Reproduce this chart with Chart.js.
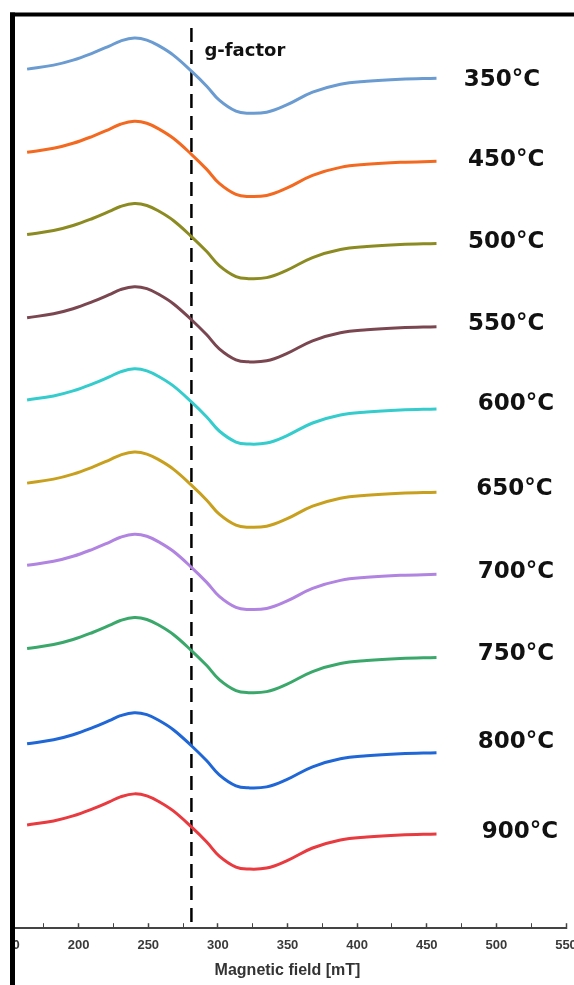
<!DOCTYPE html>
<html><head><meta charset="utf-8">
<style>
html,body{margin:0;padding:0;background:#fff;overflow:hidden;width:574px;height:985px;}
#wrap{position:absolute;left:-30px;top:0;width:640px;height:985px;}
</style>
<script src="https://cdn.jsdelivr.net/npm/chart.js@4.4.0/dist/chart.umd.min.js"></script>
</head><body>
<div id="wrap"><canvas id="c" width="640" height="985" style="width:640px;height:985px"></canvas></div>
<script>
// Magnetic field positions (mT) at which the spectra were read
const fieldMT = [163, 182, 196, 210, 222, 230, 240, 249, 258, 268, 281, 292, 301, 313, 322, 335, 349, 368, 388, 407, 431, 457];
// Temperature labels
const temperatures = ['350', '450', '500', '550', '600', '650', '700', '750', '800', '900'];
// Stacked ESR derivative signals (arbitrary units, offset stacking)
const s350 = [857, 861, 866, 873, 880, 885, 888, 886, 880, 871, 855, 840, 826, 815, 813, 814, 821, 834, 842, 845, 847, 848];
const s450 = [774, 778, 783, 790, 797, 802, 805, 803, 797, 788, 772, 757, 743, 732, 730, 731, 738, 751, 759, 762, 764, 765];
const s500 = [692, 696, 701, 708, 715, 720, 723, 721, 715, 706, 690, 675, 661, 650, 648, 649, 656, 669, 677, 680, 682, 683];
const s550 = [609, 613, 618, 625, 632, 637, 640, 638, 632, 623, 607, 592, 578, 567, 565, 566, 573, 586, 594, 597, 599, 600];
const s600 = [527, 531, 536, 543, 550, 555, 558, 556, 550, 541, 525, 510, 496, 485, 483, 484, 491, 504, 512, 515, 517, 518];
const s650 = [444, 448, 453, 460, 467, 472, 475, 473, 467, 458, 442, 427, 413, 402, 400, 401, 408, 421, 429, 432, 434, 435];
const s700 = [362, 366, 371, 378, 385, 390, 393, 391, 385, 376, 360, 345, 331, 320, 318, 319, 326, 339, 347, 350, 352, 353];
const s750 = [279, 283, 288, 295, 302, 307, 310, 308, 302, 293, 277, 262, 248, 237, 235, 236, 243, 256, 264, 267, 269, 270];
const s800 = [184, 188, 193, 200, 207, 212, 215, 213, 207, 198, 182, 167, 153, 142, 140, 141, 148, 161, 169, 172, 174, 175];
const s900 = [103, 107, 112, 119, 126, 131, 134, 132, 126, 117, 101, 86, 72, 61, 59, 60, 67, 80, 88, 91, 93, 94];
// g-factor marker field (mT) and its vertical extent (a.u.)
const gFactorField = 281;
const gFactorSpan = [898, 0];
// Axis range / ticks
const fieldMin = 150, fieldMax = 550, fieldStep = 25, labelStep = 50;

const series = [s350, s450, s500, s550, s600, s650, s700, s750, s800, s900];
const colors = ['#6a9bd1', '#f3691f', '#8b8b22', '#7a4750', '#34cccc', '#c8a01e', '#b084e0', '#3aa86a', '#1f66d6', '#e83a3f'];
// label placement (layout only)
const labelFieldPos = [504, 507, 507, 507, 514, 513, 514, 514, 514, 517];
const labelNudgePx = [2, -1, -2, -3, -5, -3, -2, -4, -11, -2];

const datasets = series.map((s, i) => ({
  label: temperatures[i] + '°C',
  data: s.map((v, j) => ({ x: fieldMT[j], y: v })),
  borderColor: colors[i],
  borderWidth: 3,
  pointRadius: 0,
  fill: false,
  tension: 0.4
}));
datasets.push({
  label: 'g-factor',
  data: gFactorSpan.map(v => ({ x: gFactorField, y: v })),
  borderColor: '#000',
  borderWidth: 2.5,
  borderDash: [14, 8],
  pointRadius: 0,
  fill: false
});

const decor = {
  id: 'decor',
  afterDraw(chart) {
    const ctx = chart.ctx, xs = chart.scales.x, ys = chart.scales.y;
    ctx.save();
    // white margin left of frame
    ctx.fillStyle = '#fff';
    ctx.fillRect(0, 0, 40, 985);
    // frame
    ctx.fillStyle = '#000';
    ctx.fillRect(40, 12.5, 5, 985);
    ctx.fillRect(40, 12.5, 600, 4);
    // g-factor text
    ctx.font = 'bold 18px "DejaVu Sans"';
    ctx.textAlign = 'left';
    ctx.textBaseline = 'middle';
    ctx.fillStyle = '#111';
    ctx.fillText('g-factor', xs.getPixelForValue(gFactorField) + 13, 51);
    // temperature labels
    ctx.font = 'bold 23px "DejaVu Sans"';
    ctx.textAlign = 'center';
    series.forEach((s, i) => {
      const y = ys.getPixelForValue(s[s.length - 1]) + labelNudgePx[i];
      ctx.fillText(temperatures[i] + '°C', xs.getPixelForValue(labelFieldPos[i]), y);
    });
    ctx.restore();
  }
};

new Chart(document.getElementById('c'), {
  type: 'line',
  data: { datasets },
  options: {
    responsive: false,
    animation: false,
    devicePixelRatio: 1,
    layout: { padding: { left: 39, right: 44, top: 16, bottom: 0 } },
    plugins: { legend: { display: false }, tooltip: { enabled: false } },
    scales: {
      x: {
        type: 'linear',
        min: fieldMin, max: fieldMax,
        border: { display: true, color: '#444', width: 2 },
        grid: {
          drawOnChartArea: false, drawTicks: true, tickLength: -5,
          tickColor: '#444',
          tickWidth: c => (c.tick && c.tick.value % labelStep === 0) ? 1.5 : 1
        },
        ticks: {
          stepSize: fieldStep, autoSkip: false, maxRotation: 0, padding: 14,
          color: '#3a3a3a',
          font: { family: 'Liberation Sans', weight: 'bold', size: 13 },
          callback: v => (v % labelStep === 0 ? String(v) : '')
        },
        title: {
          display: true, text: 'Magnetic field [mT]', color: '#333',
          font: { family: 'Liberation Sans', weight: 'bold', size: 16 },
          padding: { top: -6, bottom: 5 }
        }
      },
      y: {
        display: false, min: 0, max: 910
      }
    }
  },
  plugins: [decor]
});
</script>
</body></html>
